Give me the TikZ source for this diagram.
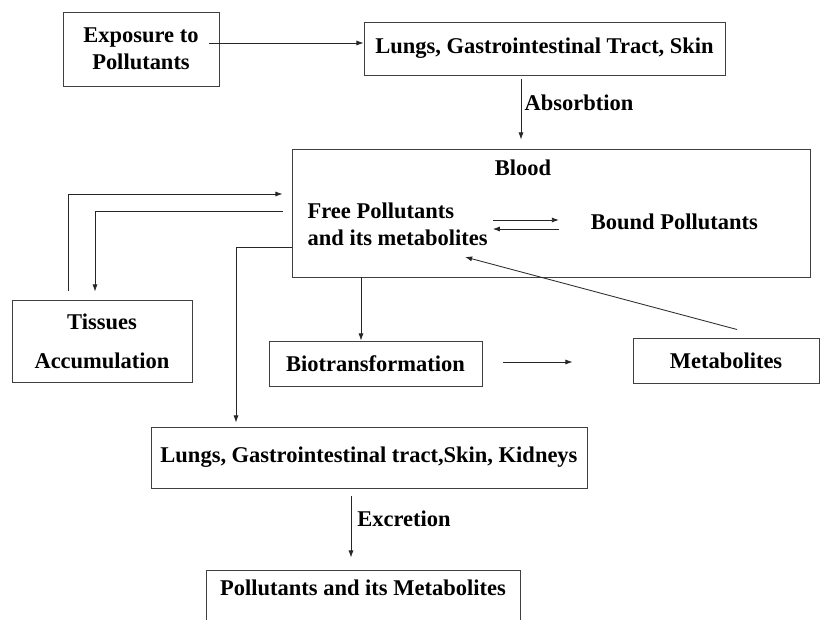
\documentclass[tikz,border=0pt]{standalone}
\usepackage{fontspec}
\setmainfont{Liberation Serif}
\usetikzlibrary{arrows.meta,positioning}
\tikzstyle{stage} = [draw=black!75, line width=0.7pt, text centered, align=center, inner sep=0pt, font=\bfseries\fontsize{16}{19}\selectfont]
\tikzstyle{plaintext} = [inner sep=0pt, text=black, font=\bfseries\fontsize{16}{19}\selectfont]
\tikzstyle{arrow} = [draw, line width=0.6pt, color=black!85, -{Latex[length=5pt,width=3.6pt]}]
\newcommand{\stage}[4]{node (#1) [stage, minimum width=#2, minimum height=#3] {#4}}
\newcommand{\inbox}[2]{node (#1) [plaintext, align=left] {#2}}

\begin{document}
\begin{tikzpicture}
\useasboundingbox (0,0) rectangle (20.5,-15.475);
\path (3.525,-1.225) \stage{expo}{3.9cm}{1.85cm}{Exposure to\\ Pollutants};
\path (expo)+(10.0875,0.0125) \stage{lungs}{9.025cm}{1.325cm}{Lungs, Gastrointestinal Tract, Skin};
\path (lungs)+(0.1625,-4.1125) \stage{blood}{12.95cm}{3.2cm}{};
\path (blood)+(-0.7,1.125) \inbox{title}{Blood};
\path (blood)+(-3.835,-0.275) \inbox{free}{Free Pollutants\\ and its metabolites};
\path (blood)+(3.085,-0.225) \inbox{bound}{Bound Pollutants};
\path (blood)+(-11.225,-3.2) \stage{tissues}{4.5cm}{2.05cm}{Tissues\\[0.3cm] Accumulation};
\path (blood)+(-4.3875,-3.7625) \stage{biotrans}{5.325cm}{1.125cm}{Biotransformation};
\path (biotrans)+(8.7625,0.075) \stage{metab}{4.65cm}{1.125cm}{Metabolites};
\path (biotrans)+(-0.1625,-2.35) \stage{organs}{10.9cm}{1.525cm}{Lungs, Gastrointestinal tract,Skin, Kidneys};
\path (organs.south)+(-0.15,-2.025) node (excreted) [stage, anchor=north, minimum width=7.85cm, text height=0.65cm, text depth=0.875cm] {Pollutants and its Metabolites};

% uptake
\path (expo.east)+(-0.25,0.15) coordinate (e1);
\path [arrow] (e1) -- (e1 -| lungs.west);
\path (lungs.south)+(-0.5875,-0.1) coordinate (a1);
\path [arrow, shorten >=0.225cm] (a1) -- (a1 |- blood.north) node[plaintext, right, pos=0.34, xshift=0.08cm] (absorb) {Absorbtion};

% exchange with tissues
\path (tissues.north)+(-0.85,0.225) coordinate (t1);
\path (blood.west)+(-0.225,0.475) coordinate (b1);
\path [arrow] (t1) |- (b1);
\path (blood.west)+(-0.225,0.05) coordinate (b2);
\path (tissues.north)+(-0.175,0.2) coordinate (t2);
\path [arrow] (b2) -| (t2);

% binding
\path (free.east)+(0.125,0.1) coordinate (f2);
\path (f2)+(1.65,0) coordinate (f3);
\path [arrow] (f2) -- (f3);
\path (free.east)+(0.125,-0.125) coordinate (f4);
\path (f4)+(1.65,0) coordinate (f5);
\path [arrow] (f5) -- (f4);

% biotransformation
\path (biotrans.north)+(-0.3625,0) coordinate (bt);
\path [arrow] (bt |- blood.south) -- (bt);
\path (biotrans.east)+(0.5,0.0375) coordinate (bt2);
\path (metab.west)+(-1.5,0) coordinate (m1);
\path [arrow] (bt2) -- (bt2 -| m1);
\path (metab.north)+(0.275,0.2) coordinate (m2);
\path (free)+(1.6875,-0.825) coordinate (f1);
\path [arrow] (m2) -- (f1);

% excretion
\path (blood.west)+(0,-0.85) coordinate (b3);
\path (organs.north)+(-3.325,0.1) coordinate (o1);
\path [arrow] (b3) -| (o1);
\path (organs.south)+(-0.45,-0.2) coordinate (x1);
\path [arrow, shorten >=0.3cm] (x1) -- (x1 |- excreted.north) node[plaintext, right, pos=0.3, xshift=0.15cm] (excrete) {Excretion};
\end{tikzpicture}
\end{document}
